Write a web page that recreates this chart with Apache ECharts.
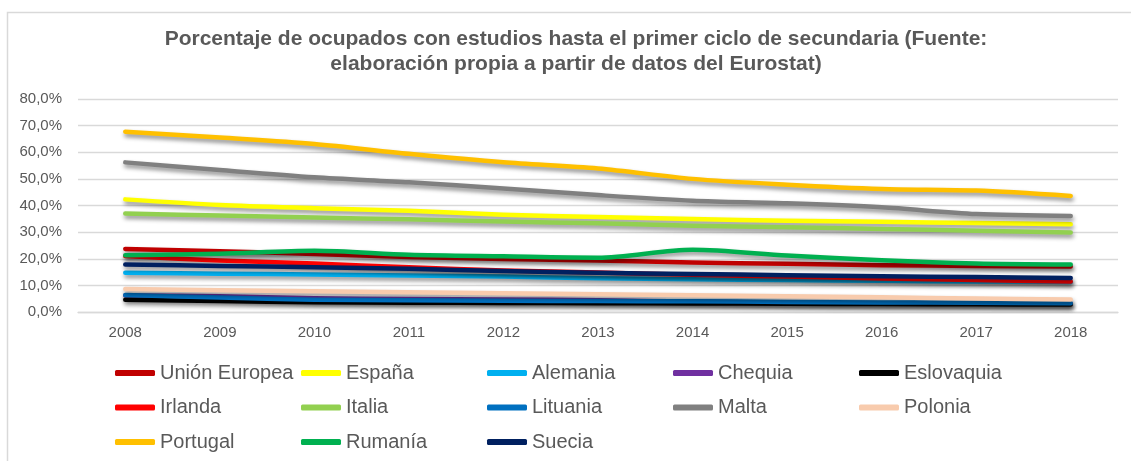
<!DOCTYPE html>
<html lang="es">
   <head>
      <meta charset="utf-8">
      <title>Porcentaje de ocupados</title>
      <script type="text/javascript" src="https://cdn.jsdelivr.net/npm/echarts@6/dist/echarts.min.js"></script>
      <style>
         html, body { margin: 0; padding: 0; background: #fff; }
      </style>
   </head>
   <body>
      <div id="main" style="width:1131px; height:461px;"></div>
      <script>
        // años del eje x
        var years = ['2008', '2009', '2010', '2011', '2012', '2013', '2014', '2015', '2016', '2017', '2018'];

        // valores en %
        var unionEuropea = [23.7, 22.8, 21.8, 20.7, 19.9, 19.3, 18.6, 18.1, 17.6, 17.3, 17.1];
        var espana       = [42.3, 40.2, 39.0, 38.0, 36.5, 35.7, 34.9, 34.3, 33.9, 33.4, 33.0];
        var alemania     = [14.7, 14.4, 14.1, 13.7, 13.3, 12.7, 12.3, 12.0, 11.7, 11.5, 11.3];
        var chequia      = [6.2, 5.9, 5.2, 4.9, 4.7, 4.4, 3.9, 3.5, 3.3, 3.2, 3.1];
        var eslovaquia   = [4.6, 4.1, 3.7, 3.5, 3.4, 3.3, 3.2, 3.1, 3.0, 2.9, 2.8];
        var irlanda      = [21.0, 19.3, 18.2, 16.8, 15.6, 14.8, 14.0, 13.3, 12.6, 12.0, 11.5];
        var italia       = [37.0, 36.2, 35.5, 34.8, 34.0, 33.3, 32.4, 31.8, 31.2, 30.5, 29.9];
        var lituania     = [6.4, 5.4, 4.6, 4.4, 4.2, 4.1, 4.0, 3.8, 3.6, 3.5, 3.3];
        var malta        = [56.2, 53.3, 50.6, 48.7, 46.4, 43.9, 41.8, 40.8, 39.3, 36.8, 36.1];
        var polonia      = [8.6, 8.2, 7.8, 7.4, 7.0, 6.7, 6.3, 5.9, 5.5, 5.1, 4.7];
        var portugal     = [67.7, 65.5, 63.1, 59.4, 56.2, 53.9, 50.0, 47.8, 46.2, 45.6, 43.6];
        var rumania      = [21.3, 21.9, 23.0, 21.5, 20.9, 20.4, 23.4, 21.2, 19.4, 18.2, 17.8];
        var suecia       = [17.8, 17.3, 16.8, 16.2, 15.4, 14.7, 14.3, 13.8, 13.4, 13.1, 12.8];

        var seriesDefs = [
            ['Unión Europea', unionEuropea, '#C00000'],
            ['España', espana, '#FFFF00'],
            ['Alemania', alemania, '#00B0F0'],
            ['Chequia', chequia, '#7030A0'],
            ['Eslovaquia', eslovaquia, '#000000'],
            ['Irlanda', irlanda, '#FF0000'],
            ['Italia', italia, '#92D050'],
            ['Lituania', lituania, '#0070C0'],
            ['Malta', malta, '#808080'],
            ['Polonia', polonia, '#F8CBAD'],
            ['Portugal', portugal, '#FFC000'],
            ['Rumanía', rumania, '#00B050'],
            ['Suecia', suecia, '#002060']
        ];

        var legendRows = [
            ['Unión Europea', 'España', 'Alemania', 'Chequia', 'Eslovaquia'],
            ['Irlanda', 'Italia', 'Lituania', 'Malta', 'Polonia'],
            ['Portugal', 'Rumanía', 'Suecia']
        ];
        var legendTops = [363, 397.5, 432];

        var font = "'Liberation Sans', Arial, sans-serif";
        var grey = '#595959';

        var chart = echarts.init(document.getElementById('main'), null, {renderer: 'canvas'});

        chart.setOption({
            animation: false,
            textStyle: {fontFamily: font},
            graphic: [{
                type: 'rect',
                shape: {x: 7.5, y: 12.5, width: 1140, height: 460},
                style: {fill: 'none', stroke: '#d9d9d9', lineWidth: 1.5},
                silent: true
            }],
            title: {
                text: 'Porcentaje de ocupados con estudios hasta el primer ciclo de secundaria (Fuente:\nelaboración propia a partir de datos del Eurostat)',
                left: 576,
                top: 27,
                padding: 0,
                textAlign: 'center',
                textStyle: {fontFamily: font, fontSize: 21, fontWeight: 'bold', color: grey, lineHeight: 25}
            },
            legend: legendRows.map(function (row, i) {
                return {
                    data: row,
                    left: 115,
                    top: legendTops[i],
                    padding: 0,
                    orient: 'horizontal',
                    icon: 'roundRect',
                    itemWidth: 40,
                    itemHeight: 6,
                    itemGap: 0,
                    itemStyle: {borderWidth: 0},
                    selectedMode: false,
                    textStyle: {fontFamily: font, fontSize: 20, color: grey, width: 141, lineHeight: 20}
                };
            }),
            grid: {left: 78, right: 13, top: 99, bottom: 149},
            xAxis: {
                type: 'category',
                data: years,
                boundaryGap: true,
                axisLine: {lineStyle: {color: '#d9d9d9', width: 1.3}},
                axisTick: {show: false},
                axisLabel: {fontFamily: font, fontSize: 15, color: grey, margin: 13}
            },
            yAxis: {
                type: 'value',
                min: 0,
                max: 80,
                interval: 10,
                axisLine: {show: false},
                axisTick: {show: false},
                splitLine: {lineStyle: {color: '#d9d9d9', width: 1.3}},
                axisLabel: {
                    fontFamily: font, fontSize: 15, color: grey, margin: 16,
                    formatter: function (v) { return v.toFixed(1).replace('.', ',') + '%'; }
                }
            },
            series: seriesDefs.map(function (d) {
                return {
                    name: d[0],
                    type: 'line',
                    data: d[1],
                    color: d[2],
                    smooth: 0.3,
                    showSymbol: false,
                    symbol: 'none',
                    itemStyle: {color: d[2]},
                    lineStyle: {
                        color: d[2], width: 4.5, cap: 'round', join: 'round',
                        shadowColor: 'rgba(0,0,0,0.45)', shadowBlur: 4, shadowOffsetX: 1, shadowOffsetY: 3
                    },
                    emphasis: {disabled: true}
                };
            })
        });
      </script>
   </body>
</html>
